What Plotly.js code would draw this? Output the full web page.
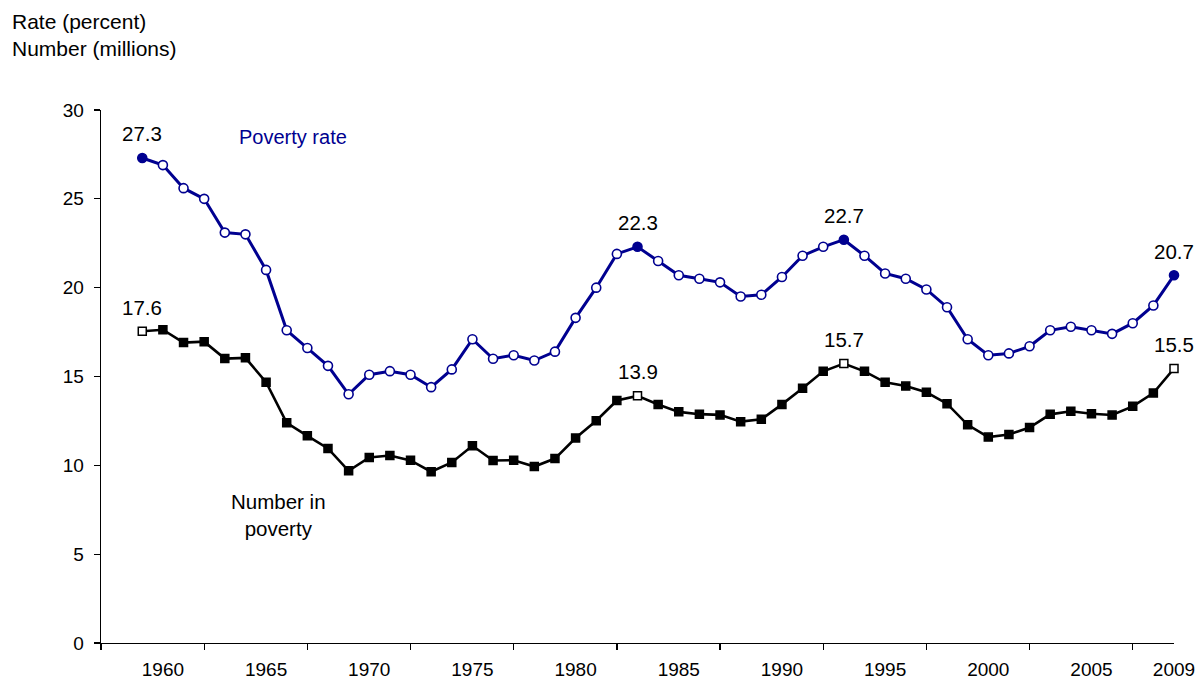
<!DOCTYPE html>
<html>
<head>
<meta charset="utf-8">
<script src="https://cdn.plot.ly/plotly-3.0.1.min.js"></script>
<style>
  html, body { margin: 0; padding: 0; background: #fff; }
  #chart { width: 1199px; height: 680px; }
</style>
</head>
<body>
<div id="chart"></div>
<script>
// ---- data ----
var years = [];
for (var y = 1959; y <= 2009; y++) years.push(y);

var povertyRate = [
  27.3, 26.9, 25.6, 25.0, 23.1, 23.0, 21.0, 17.6, 16.6, 15.6,
  14.0, 15.1, 15.3, 15.1, 14.4, 15.4, 17.1, 16.0, 16.2, 15.9,
  16.4, 18.3, 20.0, 21.9, 22.3, 21.5, 20.7, 20.5, 20.3, 19.5,
  19.6, 20.6, 21.8, 22.3, 22.7, 21.8, 20.8, 20.5, 19.9, 18.9,
  17.1, 16.2, 16.3, 16.7, 17.6, 17.8, 17.6, 17.4, 18.0, 19.0,
  20.7
];

var numberInPoverty = [
  17.55, 17.63, 16.91, 16.96, 16.01, 16.05, 14.68, 12.39, 11.66, 10.95,
  9.69, 10.44, 10.55, 10.28, 9.64, 10.16, 11.10, 10.27, 10.29, 9.93,
  10.38, 11.54, 12.51, 13.65, 13.91, 13.42, 13.01, 12.88, 12.84, 12.46,
  12.59, 13.43, 14.34, 15.29, 15.73, 15.29, 14.67, 14.46, 14.11, 13.47,
  12.28, 11.59, 11.73, 12.13, 12.87, 13.04, 12.90, 12.83, 13.32, 14.07,
  15.45
];

var labelYears = [1959, 1983, 1993, 2009];
var rateLabels = ['27.3', '22.3', '22.7', '20.7'];
var numberLabels = ['17.6', '13.9', '15.7', '15.5'];

var tickYears = [1960, 1965, 1970, 1975, 1980, 1985, 1990, 1995, 2000, 2005, 2009];
var tickText = ['1960', '1965', '1970', '1975', '1980', '1985', '1990', '1995', '2000', '2005', '2009'];

// ---- styles ----
var NAVY = '#000090';
var FONT = 'Liberation Sans, Arial, sans-serif';

var rateFill = years.map(function (yr) { return labelYears.indexOf(yr) >= 0 ? NAVY : '#ffffff'; });
var numFill = years.map(function (yr) { return labelYears.indexOf(yr) >= 0 ? '#ffffff' : '#000000'; });

var traces = [
  {
    x: years, y: povertyRate, type: 'scatter', mode: 'lines+markers',
    line: { color: NAVY, width: 3 },
    marker: { symbol: 'circle', size: 9, color: rateFill, line: { color: NAVY, width: 1.6 } },
    cliponaxis: false, hoverinfo: 'x+y', showlegend: false
  },
  {
    x: years, y: numberInPoverty, type: 'scatter', mode: 'lines+markers',
    line: { color: '#000000', width: 2.6 },
    marker: { symbol: 'square', size: 8, color: numFill, line: { color: '#000000', width: 1.5 } },
    cliponaxis: false, hoverinfo: 'x+y', showlegend: false
  }
];

var annotations = [];
labelYears.forEach(function (yr, i) {
  var idx = years.indexOf(yr);
  annotations.push({
    x: yr, y: povertyRate[idx], xref: 'x', yref: 'y', text: rateLabels[i],
    showarrow: false, yanchor: 'middle', yshift: 24,
    font: { family: FONT, size: 20.5, color: '#000000' }
  });
  annotations.push({
    x: yr, y: numberInPoverty[idx], xref: 'x', yref: 'y', text: numberLabels[i],
    showarrow: false, yanchor: 'middle', yshift: 24,
    font: { family: FONT, size: 20.5, color: '#000000' }
  });
});

var M = { l: 101, r: 25, t: 110, b: 37 };
var W = 1199, H = 680;
function px(xp) { return (xp - M.l) / (W - M.l - M.r); }
function py(yp) { return 1 - (yp - M.t) / (H - M.t - M.b); }

annotations.push({
  x: px(293), y: py(137), xref: 'paper', yref: 'paper', text: 'Poverty rate',
  xanchor: 'center', yanchor: 'middle',
  showarrow: false, font: { family: FONT, size: 20, color: NAVY }
});
annotations.push({
  x: px(278), y: py(515), xref: 'paper', yref: 'paper', text: 'Number in<br>poverty',
  xanchor: 'center', yanchor: 'middle',
  showarrow: false, font: { family: FONT, size: 20.5, color: '#000000' }
});
annotations.push({
  x: px(10), y: py(8), xref: 'paper', yref: 'paper',
  text: 'Rate (percent)<br>Number (millions)', align: 'left',
  xanchor: 'left', yanchor: 'top',
  showarrow: false, font: { family: FONT, size: 21, color: '#000000' }
});

var layout = {
  width: W, height: H,
  margin: M,
  paper_bgcolor: '#ffffff', plot_bgcolor: '#ffffff',
  font: { family: FONT, size: 19, color: '#000000' },
  xaxis: {
    range: [1957, 2009], showgrid: false, zeroline: false,
    showline: true, linecolor: '#000000', linewidth: 1.3,
    tickmode: 'array', tickvals: tickYears, ticktext: tickText,
    ticks: '', ticklabelstandoff: 9,
    tickfont: { family: FONT, size: 19, color: '#000000' },
    minor: { tickmode: 'linear', tick0: 1957, dtick: 5, ticks: 'outside', ticklen: 6, tickwidth: 1.3, tickcolor: '#000000', showgrid: false }
  },
  yaxis: {
    range: [0, 30], showgrid: false, zeroline: false,
    showline: true, linecolor: '#000000', linewidth: 1.3,
    tickmode: 'linear', tick0: 0, dtick: 5,
    ticks: 'outside', ticklen: 6, tickwidth: 1.3, tickcolor: '#000000',
    ticklabelstandoff: 6,
    tickfont: { family: FONT, size: 19, color: '#000000' }
  },
  annotations: annotations
};

Plotly.newPlot('chart', traces, layout, { displayModeBar: false, staticPlot: true });
</script>
</body>
</html>
